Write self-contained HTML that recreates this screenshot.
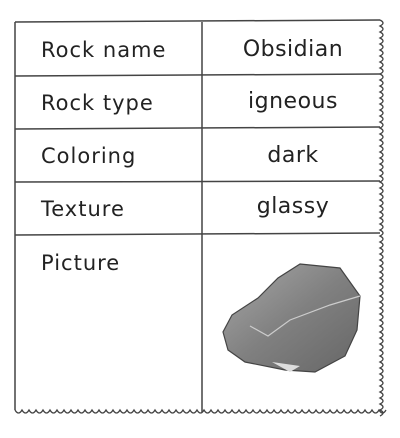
<!DOCTYPE html>
<html><head><meta charset="utf-8"><style>
body{margin:0;width:400px;height:438px;background:#fff;overflow:hidden;font-family:"DejaVu Sans","Liberation Sans",sans-serif}
svg{position:absolute;left:0;top:0}
</style></head><body>
<svg width="400" height="438">
<g stroke="#444" stroke-width="1.5" fill="none">
<line x1="15" y1="22" x2="380" y2="20"/>
<line x1="15" y1="22" x2="15" y2="410"/>
<line x1="202" y1="22" x2="202" y2="412"/>
<line x1="15" y1="76" x2="380" y2="74"/>
<line x1="15" y1="129" x2="380" y2="127"/>
<line x1="15" y1="182" x2="380" y2="181"/>
<line x1="15" y1="235" x2="380" y2="233"/>
<path id="rw" stroke-width="1.3"/>
<path id="bw" stroke-width="1.3"/>
</g>
<g font-size="21" fill="#222" letter-spacing="1">
<text x="41" y="57">Rock name</text>
<text x="41" y="110">Rock type</text>
<text x="41" y="163">Coloring</text>
<text x="41" y="216">Texture</text>
<text x="41" y="270">Picture</text>
</g>
<g font-size="22" fill="#222" text-anchor="middle" letter-spacing="0.5">
<text x="293" y="56">Obsidian</text>
<text x="293" y="108">igneous</text>
<text x="293" y="162">dark</text>
<text x="293" y="213">glassy</text>
</g>
<g>
<defs><linearGradient id="g" x1="0" y1="0" x2="1" y2="1"><stop offset="0" stop-color="#a8a8a8"/><stop offset="0.5" stop-color="#808080"/><stop offset="1" stop-color="#666"/></linearGradient></defs>
<path d="M300,264 L340,268 L360,296 L357,330 L345,356 L315,372 L285,370 L245,362 L228,350 L223,332 L232,315 L258,298 L278,278 Z" fill="url(#g)" stroke="#444" stroke-width="1.2"/>
<path d="M250,326 L268,336 L290,320 L330,305 L360,296" fill="none" stroke="#ccc" stroke-width="1.2"/>
<path d="M272,362 L300,366 L290,372 Z" fill="#ddd"/>
</g>
</svg>
<script>
let r='M380,20';for(let y=20;y<412;y+=6){r+=' Q386,'+(y+3)+' 380,'+(y+6);}
document.getElementById('rw').setAttribute('d',r);
let b='M15,410';for(let x=15;x<380;x+=7){b+=' Q'+(x+3.5)+',416 '+(x+7)+',410';}
document.getElementById('bw').setAttribute('d',b);
</script>
</body></html>
